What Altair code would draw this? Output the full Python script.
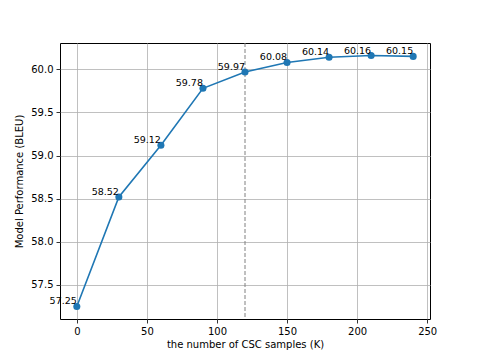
import altair as alt
import pandas as pd

samples = [0, 30, 60, 90, 120, 150, 180, 210, 240]
bleu = [57.25, 58.52, 59.12, 59.78, 59.97, 60.08, 60.14, 60.16, 60.15]
labels = ["57.25", "58.52", "59.12", "59.78", "59.97", "60.08", "60.14", "60.16", "60.15"]
x_ticks = [0, 50, 100, 150, 200, 250]
y_ticks = [57.5, 58.0, 58.5, 59.0, 59.5, 60.0]
marker_x = [120]

df = pd.DataFrame({"x": samples, "y": bleu, "label": labels})
vdf = pd.DataFrame({"x": marker_x})

FONT = "DejaVu Sans"
BLUE = "#1f77b4"

xscale = alt.Scale(domain=[-12, 252], nice=False, zero=False)
yscale = alt.Scale(domain=[57.1045, 60.3055], nice=False, zero=False)

xenc = alt.X("x:Q", scale=xscale,
             axis=alt.Axis(values=x_ticks, title="the number of CSC samples (K)",
                           format="d", grid=True))
yenc = alt.Y("y:Q", scale=yscale,
             axis=alt.Axis(values=y_ticks, title="Model Performance (BLEU)",
                           format=".1f", grid=True))

line = alt.Chart(df).mark_line(color=BLUE, strokeWidth=1.6).encode(x=xenc, y=yenc)
pts = alt.Chart(df).mark_circle(color=BLUE, size=50, opacity=1).encode(x="x:Q", y="y:Q")
txt = alt.Chart(df).mark_text(align="right", baseline="alphabetic", dy=-2,
                              font=FONT, fontSize=9.5, color="black").encode(
    x="x:Q", y="y:Q", text="label:N")
vline = alt.Chart(vdf).mark_rule(color="gray", strokeDash=[4, 2], strokeWidth=1).encode(
    x="x:Q")

chart = alt.layer(vline, line, pts, txt).properties(
    width=370, height=276,
    autosize=alt.AutoSizeParams(type="none"),
    padding={"left": 52, "top": 35, "right": 40, "bottom": 32},
    background="white",
).configure_view(
    stroke="black", strokeWidth=1
).configure_axis(
    labelFont=FONT, titleFont=FONT, labelFontSize=10, titleFontSize=10,
    titleFontWeight="normal", labelColor="black", titleColor="black",
    domain=False, tickColor="black", tickSize=4, tickWidth=0.8,
    labelPadding=3, gridColor="#b0b0b0", gridWidth=0.8,
).configure_axisY(titlePadding=6).configure_axisX(titlePadding=3)

chart.save("out.html", embed_options={"renderer": "svg", "actions": False})
